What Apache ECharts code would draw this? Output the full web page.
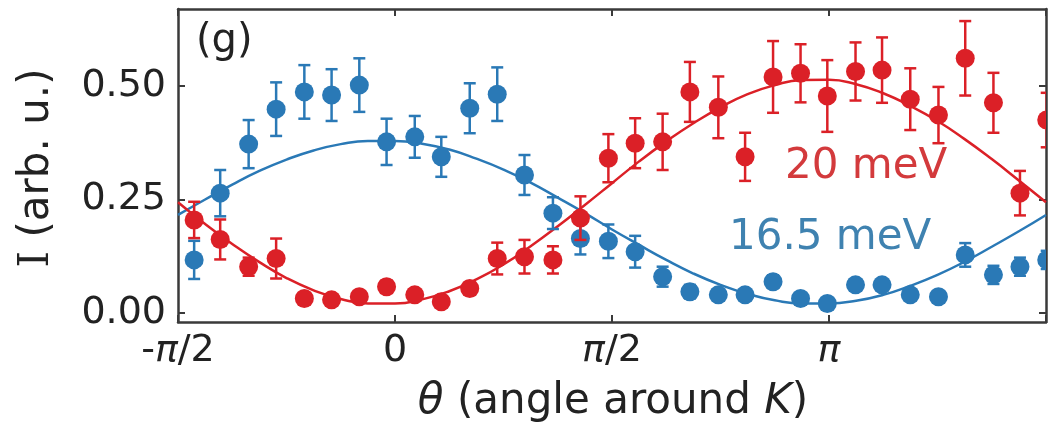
<!DOCTYPE html>
<html>
<head>
    <meta charset="utf-8">
    <title>I vs theta</title>
    <script type="text/javascript" src="https://cdn.jsdelivr.net/npm/echarts@6/dist/echarts.min.js"></script>
    <style>
        html, body { margin: 0; padding: 0; background: #fff; }
    </style>
</head>
<body>
    <div id="main" style="width: 1049px;height:431px;"></div>
    <script type="text/javascript">
        // angle of every measured point, in degrees (axis runs -90 .. 270)
        var angles = [-83.3, -72.5, -60.7, -49.3, -37.6, -26.3, -14.8, -3.5,
                      8.2, 19.2, 31.0, 42.4, 53.7, 65.5, 76.9, 88.5,
                      99.6, 111.0, 122.3, 134.1, 145.2, 156.8, 168.2, 179.3,
                      191.0, 202.0, 213.7, 225.4, 236.5, 248.2, 259.2, 270.3];

        // 16.5 meV (blue)
        var blueVals = [0.117, 0.264, 0.372, 0.449, 0.487, 0.480, 0.502, 0.377,
                        0.388, 0.344, 0.451, 0.482, 0.304, 0.220, 0.164, 0.158,
                        0.135, 0.080, 0.047, 0.040, 0.040, 0.069, 0.032, 0.021,
                        0.062, 0.062, 0.040, 0.036, 0.128, 0.084, 0.102, 0.117];
        var blueErr = [0.042, 0.051, 0.053, 0.059, 0.059, 0.057, 0.059, 0.051,
                       0.046, 0.044, 0.055, 0.059, 0.044, 0.035, 0.035, 0.037,
                       0.035, 0.022, 0.015, 0.012, 0.012, 0.014, 0.010, 0.010,
                       0.012, 0.012, 0.010, 0.010, 0.026, 0.020, 0.020, 0.020];

        // 20 meV (red)
        var redVals = [0.205, 0.162, 0.102, 0.120, 0.032, 0.029, 0.036, 0.058,
                       0.040, 0.025, 0.054, 0.120, 0.124, 0.117, 0.209, 0.341,
                       0.374, 0.377, 0.487, 0.453, 0.344, 0.520, 0.528, 0.478,
                       0.532, 0.535, 0.471, 0.436, 0.561, 0.463, 0.264, 0.425];
        var redErr = [0.040, 0.044, 0.020, 0.044, 0.012, 0.012, 0.012, 0.014,
                      0.012, 0.012, 0.014, 0.035, 0.037, 0.030, 0.048, 0.053,
                      0.055, 0.062, 0.066, 0.068, 0.053, 0.079, 0.064, 0.079,
                      0.064, 0.072, 0.068, 0.062, 0.082, 0.066, 0.049, 0.060];

        var fitAngles = [-90, -78.75, -67.5, -56.25, -45, -33.75, -22.5, -11.25,
                         0, 11.25, 22.5, 33.75, 45, 56.25, 67.5, 78.75,
                         90, 101.25, 112.5, 123.75, 135, 146.25, 157.5, 168.75,
                         180, 191.25, 202.5, 213.75, 225, 236.25, 247.5, 258.75, 270];
        var blueFit = [0.216, 0.250, 0.283, 0.313, 0.338, 0.358, 0.372, 0.379,
                       0.379, 0.373, 0.360, 0.340, 0.316, 0.287, 0.254, 0.220,
                       0.184, 0.150, 0.117, 0.087, 0.062, 0.042, 0.028, 0.021,
                       0.021, 0.027, 0.040, 0.060, 0.084, 0.113, 0.146, 0.180, 0.216];
        var redFit = [0.244, 0.196, 0.152, 0.112, 0.077, 0.050, 0.031, 0.021,
                      0.021, 0.030, 0.048, 0.074, 0.107, 0.147, 0.191, 0.238,
                      0.286, 0.334, 0.378, 0.418, 0.453, 0.482, 0.502, 0.513,
                      0.514, 0.504, 0.484, 0.456, 0.423, 0.383, 0.339, 0.292, 0.244];

        var yTicks = [0, 0.25, 0.5];
        var xTickNames = { '-90': '-{i|π}/2', '0': '0', '90': '{i|π}/2', '180': '{i|π}', '270': '' };

        var BLUE = '#2a79b6';
        var RED = '#db2027';
        var FRAME = '#3a3a3a';
        var FONT = 'DejaVu Sans';

        function zip3(a, b, c) {
            return a.map(function (v, i) { return [v, b[i], c[i]]; });
        }
        function zip2(a, b) {
            return a.map(function (v, i) { return [v, b[i]]; });
        }

        // error bar + marker drawn with the axis scales
        function pointRenderer(color) {
            return function (params, api) {
                var x = api.value(0), y = api.value(1), e = api.value(2);
                var c = api.coord([x, y]);
                var hi = api.coord([x, y + e]);
                var lo = api.coord([x, y - e]);
                var cap = 6;
                var st = { stroke: color, lineWidth: 2.5 };
                return {
                    type: 'group',
                    children: [
                        { type: 'line', shape: { x1: c[0], y1: hi[1], x2: c[0], y2: lo[1] }, style: st },
                        { type: 'line', shape: { x1: c[0] - cap, y1: hi[1], x2: c[0] + cap, y2: hi[1] }, style: st },
                        { type: 'line', shape: { x1: c[0] - cap, y1: lo[1], x2: c[0] + cap, y2: lo[1] }, style: st },
                        { type: 'circle', shape: { cx: c[0], cy: c[1], r: 9.5 }, style: { fill: color } }
                    ]
                };
            };
        }

        var axisLineStyle = { show: true, onZero: false, lineStyle: { color: FRAME, width: 2.5 } };
        var tickStyle = { show: true, inside: true, length: 7, lineStyle: { color: FRAME, width: 2 } };
        var yTickStyle = { show: true, inside: true, length: 7, lineStyle: { color: FRAME, width: 2 }, customValues: yTicks };

        var chart = echarts.init(document.getElementById('main'));
        var option = {
            animation: false,
            grid: { left: 178, right: 3, top: 9, bottom: 109 },
            xAxis: [{
                type: 'value', min: -90, max: 270, interval: 90, position: 'bottom',
                axisLine: axisLineStyle, axisTick: tickStyle, splitLine: { show: false },
                axisLabel: {
                    margin: 10, fontSize: 38, fontFamily: FONT, color: '#222',
                    formatter: function (v) { return xTickNames[String(v)]; },
                    rich: { i: { fontSize: 38, fontFamily: FONT, fontStyle: 'italic', color: '#222' } }
                }
            }, {
                type: 'value', min: -90, max: 270, interval: 90, position: 'top',
                axisLine: axisLineStyle, axisTick: tickStyle, splitLine: { show: false },
                axisLabel: { show: false }
            }],
            yAxis: [{
                type: 'value', min: -0.0198, max: 0.6696, position: 'left',
                axisLine: axisLineStyle, splitLine: { show: false }, axisTick: yTickStyle,
                axisLabel: {
                    margin: 12, fontSize: 38, fontFamily: FONT, color: '#222', customValues: yTicks,
                    formatter: function (v) { return v.toFixed(2); }
                }
            }, {
                type: 'value', min: -0.0198, max: 0.6696, position: 'right',
                axisLine: axisLineStyle, splitLine: { show: false }, axisTick: yTickStyle,
                axisLabel: { show: false }
            }],
            series: [
                {
                    type: 'line', data: zip2(fitAngles, blueFit), smooth: true, showSymbol: false,
                    lineStyle: { color: BLUE, width: 2.5 }, z: 2
                },
                {
                    type: 'line', data: zip2(fitAngles, redFit), smooth: true, showSymbol: false,
                    lineStyle: { color: RED, width: 2.5 }, z: 2
                },
                {
                    type: 'custom', data: zip3(angles, blueVals, blueErr), clip: true,
                    encode: { x: 0, y: 1 }, renderItem: pointRenderer(BLUE), z: 3
                },
                {
                    type: 'custom', data: zip3(angles, redVals, redErr), clip: true,
                    encode: { x: 0, y: 1 }, renderItem: pointRenderer(RED), z: 4
                }
            ],
            graphic: [
                { type: 'text', left: 196, top: 22, style: { text: '(g)', fontSize: 40, fontFamily: FONT, fill: '#222' } },
                { type: 'text', x: 785, y: 167, style: { text: '20 meV', fontSize: 42, fontFamily: FONT, fill: '#d33a3c', verticalAlign: 'middle' } },
                { type: 'text', x: 729, y: 238, style: { text: '16.5 meV', fontSize: 42, fontFamily: FONT, fill: '#3f82b0', verticalAlign: 'middle' } },
                {
                    type: 'text', x: 37, y: 168, rotation: Math.PI / 2,
                    style: {
                        text: '{s|I} (arb. u.)', fontSize: 42, fontFamily: FONT, fill: '#222', align: 'center', verticalAlign: 'middle',
                        rich: { s: { fontSize: 42, fontFamily: 'DejaVu Serif', fill: '#222' } }
                    }
                },
                {
                    type: 'text', x: 613, y: 402,
                    style: {
                        text: '{i|θ} (angle around {i|K})', fontSize: 42, fontFamily: FONT, fill: '#222',
                        align: 'center', verticalAlign: 'middle',
                        rich: { i: { fontSize: 42, fontFamily: FONT, fontStyle: 'italic', fill: '#222' } }
                    }
                }
            ]
        };
        chart.setOption(option);
    </script>
</body>
</html>
